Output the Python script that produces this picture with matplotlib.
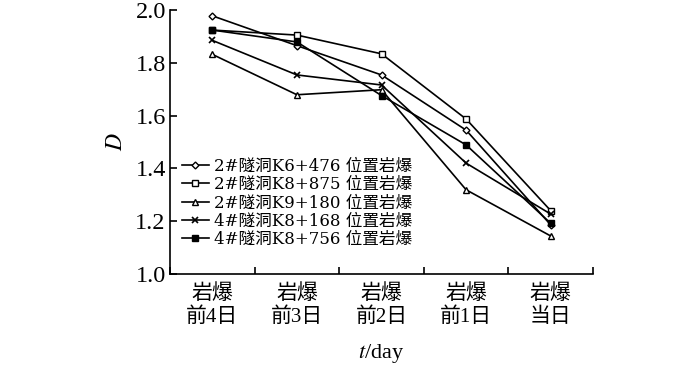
import numpy as np
import matplotlib
matplotlib.use("Agg")
import matplotlib.pyplot as plt

plt.rcParams['font.family'] = ['Liberation Serif', 'Noto Sans CJK SC']
plt.rcParams['mathtext.fontset'] = 'stix'

# ── Data ─────────────────────────────────────────────────────
categories = ["岩爆\n前4日", "岩爆\n前3日", "岩爆\n前2日", "岩爆\n前1日", "岩爆\n当日"]
labels = ["2#隧洞K6+476 位置岩爆", "2#隧洞K8+875 位置岩爆", "2#隧洞K9+180 位置岩爆",
          "4#隧洞K8+168 位置岩爆", "4#隧洞K8+756 位置岩爆"]
d_k6_476 = [1.978, 1.865, 1.754, 1.545, 1.186]
d_k8_875 = [1.924, 1.905, 1.834, 1.587, 1.240]
d_k9_180 = [1.832, 1.679, 1.698, 1.319, 1.144]
d_k8_168 = [1.885, 1.754, 1.716, 1.420, 1.227]
d_k8_756 = [1.924, 1.879, 1.676, 1.489, 1.192]
series = [d_k6_476, d_k8_875, d_k9_180, d_k8_168, d_k8_756]

markers = [dict(marker="D", ms=3.5, mfc="white"),
           dict(marker="s", ms=4.5, mfc="white"),
           dict(marker="^", ms=5, mfc="white"),
           dict(marker="x", ms=5, mew=1.2),
           dict(marker="s", ms=4.5, mfc="black")]

# ── Figure ───────────────────────────────────────────────────
fig = plt.figure(figsize=(7, 3.68), dpi=100)
ax = fig.add_axes([170/700, 94/368, 423/700, 264/368])

x = np.arange(len(categories))
for vals, lab, mk in zip(series, labels, markers):
    ax.plot(x, vals, color="black", lw=1.2, mec="black", label=lab, **mk)

ax.set_xlim(-0.5, len(categories) - 0.5)
ax.set_ylim(1.0, 2.0)
ax.set_yticks(np.arange(1.0, 2.01, 0.2))
ax.set_yticklabels(["{:.1f}".format(v) for v in np.arange(1.0, 2.01, 0.2)])

ax.set_xticks(np.arange(-0.5, len(categories)), labels=[""] * (len(categories) + 1))
ax.set_xticks(x, labels=categories, minor=True)
ax.tick_params(axis="x", which="minor", length=0, pad=7, labelsize=15)
ax.tick_params(axis="x", which="major", direction="in", length=5, width=1.2)
ax.tick_params(axis="y", direction="in", length=5, width=1.2, labelsize=17.5, pad=3)
for lbl in ax.get_xticklabels(minor=True):
    lbl.set_linespacing(1.25)

for side in ["top", "right"]:
    ax.spines[side].set_visible(False)
for side in ["left", "bottom"]:
    ax.spines[side].set_linewidth(1.2)

ax.set_ylabel("$D$", fontsize=17, labelpad=6)
ax.set_xlabel("$t$/day", fontsize=16, labelpad=11)

leg = ax.legend(loc="upper left", bbox_to_anchor=(0.028, 0.44), frameon=False,
                prop={"family": ["DejaVu Serif", "Noto Sans CJK SC"], "size": 12},
                handlelength=1.6, handletextpad=0.3,
                labelspacing=0.08, borderpad=0, borderaxespad=0)

fig.savefig("out.png", dpi=100, facecolor="white")
